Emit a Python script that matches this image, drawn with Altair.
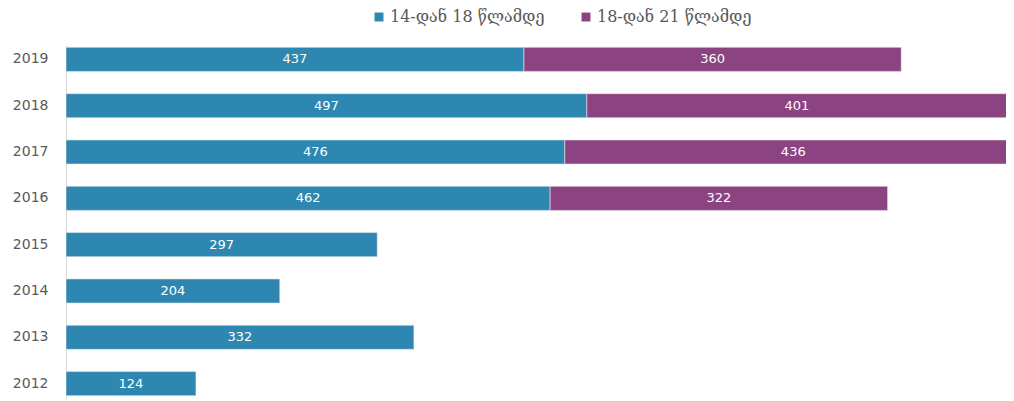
import altair as alt
import pandas as pd

years = ["2019", "2018", "2017", "2016", "2015", "2014", "2013", "2012"]
age_14_18 = [437, 497, 476, 462, 297, 204, 332, 124]
age_18_21 = [360, 401, 436, 322, None, None, None, None]
series_names = ["14-დან 18 წლამდე", "18-დან 21 წლამდე"]
colors = ["#2E87B1", "#8C4381"]

rows = []
for y, a, b in zip(years, age_14_18, age_18_21):
    rows.append({"year": y, "series": series_names[0], "order": 0,
                 "value": a, "x0": 0, "x1": a, "mid": a / 2})
    if b is not None:
        rows.append({"year": y, "series": series_names[1], "order": 1,
                     "value": b, "x0": a, "x1": a + b, "mid": a + b / 2})
df = pd.DataFrame(rows)

xscale = alt.Scale(domain=[0, 897], nice=False, zero=True)
yenc = alt.Y("year:N", sort=years,
             scale=alt.Scale(paddingInner=0.48, paddingOuter=0.05),
             axis=alt.Axis(title=None, ticks=False, labelPadding=18,
                           labelFontSize=14, labelColor="#595959",
                           labelFont="DejaVu Sans", domainColor="#D9D9D9",
                           domainWidth=1))

bars = alt.Chart(df).mark_bar(clip=True, stroke="#E8E8E8", strokeWidth=0.6).encode(
    x=alt.X("x0:Q", scale=xscale, axis=None),
    x2="x1:Q",
    y=yenc,
    color=alt.Color("series:N",
                    scale=alt.Scale(domain=series_names, range=colors),
                    legend=alt.Legend(title=None, orient="none", direction="horizontal",
                                      legendX=305, legendY=-36,
                                      symbolType="square", symbolSize=80,
                                      symbolStrokeWidth=0,
                                      labelFontSize=16, labelColor="#595959",
                                      labelFont="DejaVu Serif",
                                      columnPadding=33, labelOffset=3)),
)

labels = alt.Chart(df).mark_text(color="white", fontSize=13, font="DejaVu Sans",
                                 baseline="middle", align="center").encode(
    x=alt.X("mid:Q", scale=xscale, axis=None),
    y=alt.Y("year:N", sort=years),
    text=alt.Text("value:Q"),
)

chart = alt.layer(bars, labels).properties(
    width=940, height=353,
    autosize=alt.AutoSizeParams(type="none"),
    padding={"left": 58, "top": 37, "right": 0, "bottom": 3},
).configure_view(stroke=None)

chart.save("out.html", embed_options={"renderer": "svg", "actions": False})
